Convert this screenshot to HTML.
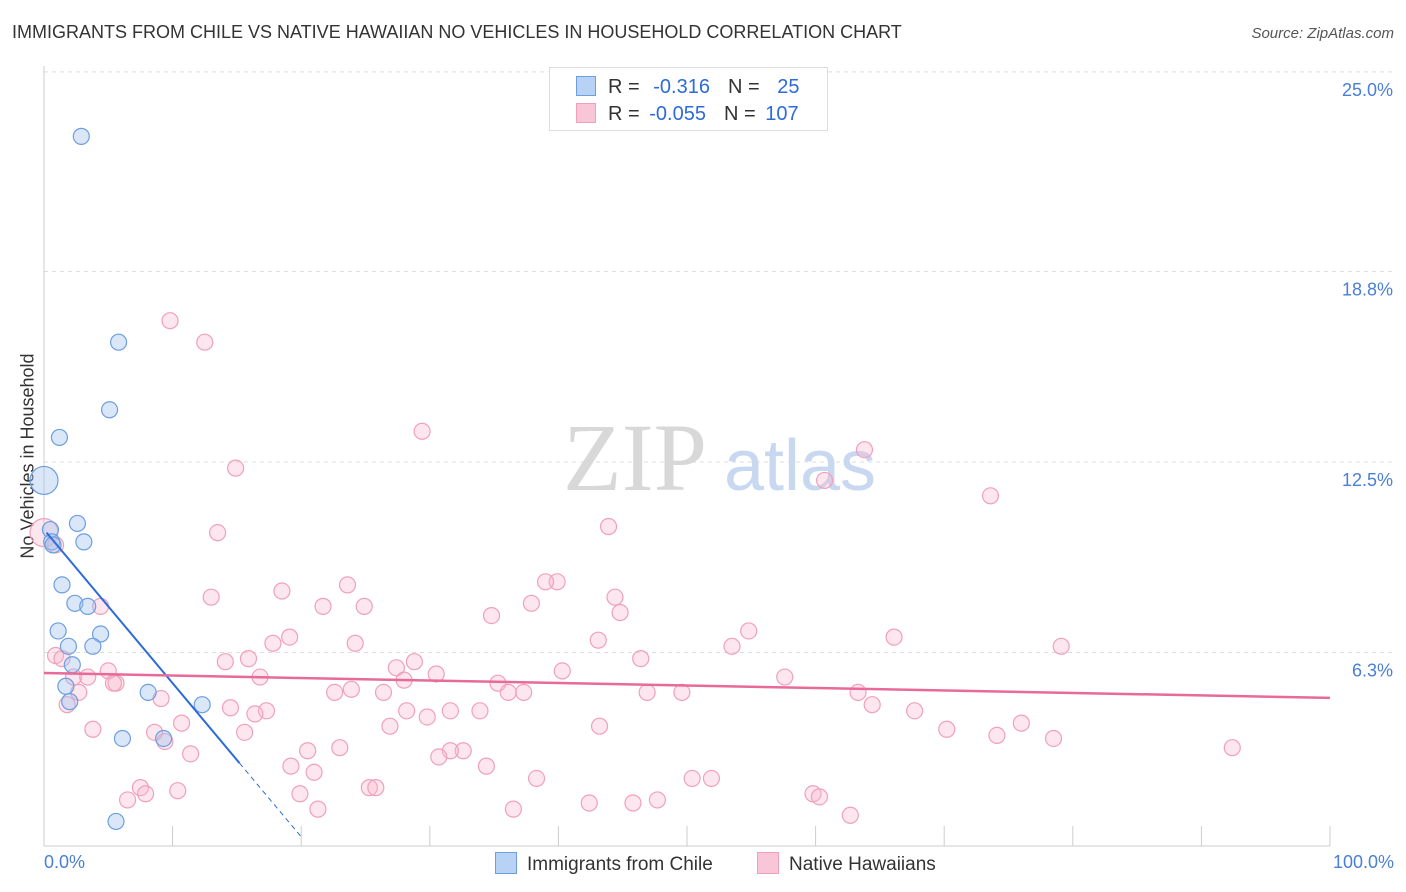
<!DOCTYPE html>
<html><head><meta charset="utf-8">
<style>
body{margin:0;background:#fff;font-family:"Liberation Sans",sans-serif;}
#wrap{position:relative;width:1406px;height:892px;overflow:hidden;}
.t{position:absolute;white-space:nowrap;}
</style></head><body>
<div id="wrap">
<div class="t" style="left:12px;top:22px;font-size:18px;color:#333;">IMMIGRANTS FROM CHILE VS NATIVE HAWAIIAN NO VEHICLES IN HOUSEHOLD CORRELATION CHART</div>
<div class="t" style="right:12px;top:25px;font-size:15px;color:#555;font-style:italic;">Source: ZipAtlas.com</div>
<div class="t" style="left:28px;top:456px;font-size:18px;color:#333;transform:translate(-50%,-50%) rotate(-90deg);">No Vehicles in Household</div>
<svg id="plot" width="1406" height="892" style="position:absolute;left:0;top:0"></svg>
</div>
<script>
const chileX=[2.9,5.8,5.1,1.2,0,2.6,0.5,0.6,3.1,1.4,2.4,3.4,1.1,4.4,1.9,3.8,2.2,1.7,2.0,8.1,12.3,6.1,9.3,5.6,0.7];
const chileY=[23.1,16.4,14.2,13.3,11.9,10.5,10.3,9.9,9.9,8.5,7.9,7.8,7.0,6.9,6.5,6.5,5.9,5.2,4.7,5.0,4.6,3.5,3.5,0.8,9.8];
const hawX=[9.8,12.5,29.4,63.8,14.9,60.7,73.6,43.9,13.5,0,0.9,23.6,39.9,39.0,18.5,13.0,37.9,44.4,4.4,21.7,24.9,44.8,34.8,54.8,19.1,43.1,17.8,66.1,79.1,24.2,53.5,0.9,1.4,15.9,46.4,14.1,28.8,27.4,5.0,2.3,3.4,5.6,40.3,16.8,30.5,28.0,57.6,23.9,5.4,2.7,26.4,22.6,35.3,36.1,37.3,46.9,49.6,63.3,9.1,64.4,14.5,1.8,17.3,28.2,16.4,29.8,31.6,33.9,67.7,10.7,26.9,3.8,43.2,76.0,8.6,15.6,70.2,74.1,78.5,23.0,9.4,11.4,20.5,32.6,31.6,30.7,34.4,92.4,19.2,21.0,50.4,51.9,38.3,7.5,7.9,10.4,25.3,25.8,19.9,59.8,60.3,6.5,42.4,45.8,47.7,36.5,21.3,62.7];
const hawY=[17.1,16.4,13.5,12.9,12.3,11.9,11.4,10.4,10.2,10.2,9.8,8.5,8.6,8.6,8.3,8.1,7.9,8.1,7.8,7.8,7.8,7.6,7.5,7.0,6.8,6.7,6.6,6.8,6.5,6.6,6.5,6.2,6.1,6.1,6.1,6.0,6.0,5.8,5.7,5.5,5.5,5.3,5.7,5.5,5.6,5.4,5.5,5.1,5.3,5.0,5.0,5.0,5.3,5.0,5.0,5.0,5.0,5.0,4.8,4.6,4.5,4.6,4.4,4.4,4.3,4.2,4.4,4.4,4.4,4.0,3.9,3.8,3.9,4.0,3.7,3.7,3.8,3.6,3.5,3.2,3.4,3.0,3.1,3.1,3.1,2.9,2.6,3.2,2.6,2.4,2.2,2.2,2.2,1.9,1.7,1.8,1.9,1.9,1.7,1.7,1.6,1.5,1.4,1.4,1.5,1.2,1.2,1.0];
const yTicks=[25.0,18.8,12.5,6.3];
const yTickLabels=["25.0%","18.8%","12.5%","6.3%"];
const xTicks=[0,10,20,30,40,50,60,70,80,90,100];
const chileTrend=[[0.2,10.2],[15.2,2.7],[20,0.3]];
const hawTrend=[[0,5.63],[100,4.82]];

const X=v=>44+v*12.86, Y=v=>846-v*30.72;
const svg=document.getElementById('plot');
const NS='http://www.w3.org/2000/svg';
function mk(tag,a,p){const e=document.createElementNS(NS,tag);for(const k in a)e.setAttribute(k,a[k]);(p||svg).appendChild(e);return e;}
// gridlines
yTicks.forEach((v,i)=>{
 const g=mk('line',{x1:44,x2:1394,y1:Y(v===25?25.2:v===18.8?18.7:v),y2:Y(v===25?25.2:v===18.8?18.7:v),stroke:'#ddd','stroke-dasharray':'4,4'});
 
 
 const t=mk('text',{x:1393,y:Y(v===25?25.2:v===18.8?18.7:v)+24,'text-anchor':'end','font-size':18,fill:'#4a7fd6','font-family':'Liberation Sans'});
 t.textContent=yTickLabels[i];
 
 
});
const ax=mk('line',{x1:44,x2:44,y1:66,y2:846,stroke:'#ccc'});


const bx=mk('line',{x1:44,x2:1330,y1:846,y2:846,stroke:'#ccc'});


xTicks.forEach(v=>{const l=mk('line',{x1:X(v),x2:X(v),y1:826,y2:846,stroke:'#ccc'});
 
 });
// watermark
const w1=mk('text',{x:635,y:490,'text-anchor':'middle','font-size':96,fill:'#d8d8d8','font-family':'Liberation Serif'});w1.textContent='ZIP';


const w2=mk('text',{x:800,y:490,'text-anchor':'middle','font-size':72,fill:'#c8d8f0','font-family':'Liberation Sans'});w2.textContent='atlas';


// points
hawX.forEach((x,i)=>{const c=mk('circle',{cx:X(x),cy:Y(hawY[i]),r:(x===0?14:8),fill:'rgba(248,182,204,0.35)',stroke:'#f0a0bc','stroke-width':1.2});
 
 });
chileX.forEach((x,i)=>{const c=mk('circle',{cx:X(x),cy:Y(chileY[i]),r:(x===0?14:8),fill:'rgba(160,195,240,0.4)',stroke:'#6d9ee0','stroke-width':1.2});
 
 });
// trends
const tb=mk('line',{x1:X(chileTrend[0][0]),y1:Y(chileTrend[0][1]),x2:X(chileTrend[1][0]),y2:Y(chileTrend[1][1]),stroke:'#2d6bd8','stroke-width':2});


const td=mk('line',{x1:X(chileTrend[1][0]),y1:Y(chileTrend[1][1]),x2:X(chileTrend[2][0]),y2:Y(chileTrend[2][1]),stroke:'#2d6bd8','stroke-width':1,'stroke-dasharray':'5,4'});


const tp=mk('line',{x1:X(hawTrend[0][0]),y1:Y(hawTrend[0][1]),x2:X(hawTrend[1][0]),y2:Y(hawTrend[1][1]),stroke:'#e86a98','stroke-width':2.5});


</script>
<div class="t" style="left:549px;top:67px;width:277px;height:62px;border:1px solid #ddd;background:#fff;font-size:20px;">
 <div style="position:absolute;left:26px;top:8px;"><span style="display:inline-block;width:18px;height:18px;background:#b8d2f5;border:1px solid #6d9ee0;vertical-align:-3px;"></span><span style="color:#333;margin-left:12px;">R = </span><span style="color:#2d6bd8;margin-left:8px;">-0.316</span><span style="color:#333;margin-left:18px;">N = </span><span style="color:#2d6bd8;margin-left:12px;">25</span></div>
 <div style="position:absolute;left:26px;top:35px;"><span style="display:inline-block;width:18px;height:18px;background:#f8c6d6;border:1px solid #f0a0bc;vertical-align:-3px;"></span><span style="color:#333;margin-left:12px;">R = </span><span style="color:#2d6bd8;margin-left:4px;">-0.055</span><span style="color:#333;margin-left:18px;">N = </span><span style="color:#2d6bd8;margin-left:4px;">107</span></div>
</div>
<div class="t" style="left:44px;top:852px;font-size:18px;color:#4a7fd6;">0.0%</div>
<div class="t" style="right:12px;top:852px;font-size:18px;color:#4a7fd6;">100.0%</div>
<div class="t" style="left:495px;top:852px;font-size:19px;color:#333;"><span style="display:inline-block;width:20px;height:20px;background:#b8d2f5;border:1px solid #6d9ee0;vertical-align:-4px;margin-right:10px;"></span>Immigrants from Chile</div>
<div class="t" style="left:757px;top:852px;font-size:19px;color:#333;"><span style="display:inline-block;width:20px;height:20px;background:#f8c6d6;border:1px solid #f0a0bc;vertical-align:-4px;margin-right:10px;"></span>Native Hawaiians</div>
</body></html>
